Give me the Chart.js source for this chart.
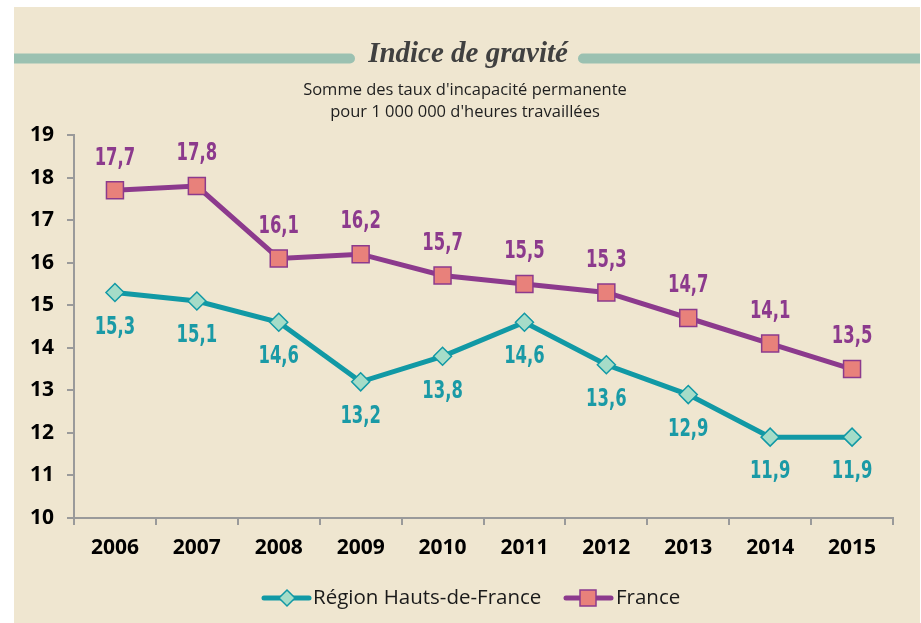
<!DOCTYPE html>
<html>
<head>
<meta charset="utf-8">
<script src="https://cdn.jsdelivr.net/npm/chart.js@4/dist/chart.umd.min.js"></script>
<style>
  html, body { margin: 0; padding: 0; background: #fff; }
  canvas { display: block; }
</style>
</head>
<body>
<canvas id="chart" width="921" height="623"></canvas>
<script>
const years = ['2006', '2007', '2008', '2009', '2010', '2011', '2012', '2013', '2014', '2015'];
const hautsDeFrance = [15.3, 15.1, 14.6, 13.2, 13.8, 14.6, 13.6, 12.9, 11.9, 11.9];
const france = [17.7, 17.8, 16.1, 16.2, 15.7, 15.5, 15.3, 14.7, 14.1, 13.5];

const TEAL = '#1199a5';
const PURPLE = '#8c3a8d';
const LABEL_FONT = 'bold 24px "DejaVu Sans Condensed", "Open Sans", sans-serif';
const TEXT_FONT = '"Open Sans", "Noto Sans", sans-serif';

// fond beige, bandeau et titres
const decor = {
    id: 'decor',
    beforeDraw(chart) {
        const ctx = chart.ctx;
        ctx.save();
        ctx.fillStyle = '#ffffff';
        ctx.fillRect(0, 0, 921, 623);
        ctx.fillStyle = '#efe6d0';
        ctx.fillRect(14, 7, 906, 616);

        ctx.beginPath();
        ctx.rect(14, 7, 906, 616);
        ctx.clip();
        ctx.strokeStyle = '#9bc1b1';
        ctx.lineWidth = 10;
        ctx.lineCap = 'round';
        ctx.beginPath();
        ctx.moveTo(0, 58.5); ctx.lineTo(350, 58.5);
        ctx.moveTo(583, 58.5); ctx.lineTo(940, 58.5);
        ctx.stroke();
        ctx.restore();

        ctx.save();
        ctx.textAlign = 'center';
        ctx.textBaseline = 'middle';
        ctx.fillStyle = '#404040';
        ctx.font = 'italic bold 29px "Liberation Serif", serif';
        ctx.fillText('Indice de gravité', 468, 55);
        ctx.fillStyle = '#1e1e1e';
        ctx.font = '16.5px ' + TEXT_FONT;
        ctx.fillText("Somme des taux d'incapacité permanente", 465, 90);
        ctx.fillText("pour 1 000 000 d'heures travaillées", 465, 112);
        ctx.restore();
    },
    afterDraw(chart) {
        // légende dessinée à la main (ligne + marqueur)
        const ctx = chart.ctx;
        const y = 598;
        ctx.save();
        ctx.lineWidth = 5;
        ctx.lineCap = 'round';
        ctx.strokeStyle = TEAL;
        ctx.beginPath(); ctx.moveTo(264, y); ctx.lineTo(309, y); ctx.stroke();
        ctx.fillStyle = '#a5dcc8';
        ctx.lineWidth = 1.5;
        ctx.beginPath();
        ctx.moveTo(287, y - 8); ctx.lineTo(295, y); ctx.lineTo(287, y + 8); ctx.lineTo(279, y);
        ctx.closePath(); ctx.fill(); ctx.stroke();

        ctx.lineWidth = 5;
        ctx.strokeStyle = PURPLE;
        ctx.beginPath(); ctx.moveTo(566, y); ctx.lineTo(611, y); ctx.stroke();
        ctx.fillStyle = '#e8817b';
        ctx.lineWidth = 1.5;
        ctx.fillRect(580, y - 8, 16, 16);
        ctx.strokeRect(580, y - 8, 16, 16);

        ctx.fillStyle = '#1a1a1a';
        ctx.font = '20.5px ' + TEXT_FONT;
        ctx.textBaseline = 'middle';
        ctx.textAlign = 'left';
        ctx.fillText('Région Hauts-de-France', 313, y);
        ctx.fillText('France', 616, y);
        ctx.restore();
    }
};

// étiquettes de valeurs (police condensée à la main)
const valueLabels = {
    id: 'valueLabels',
    afterDatasetsDraw(chart) {
        const ctx = chart.ctx;
        ctx.save();
        ctx.font = LABEL_FONT;
        ctx.textAlign = 'center';
        ctx.textBaseline = 'middle';
        chart.data.datasets.forEach((ds, i) => {
            const meta = chart.getDatasetMeta(i);
            ctx.fillStyle = ds.labelColor;
            meta.data.forEach((pt, j) => {
                const txt = ds.data[j].toFixed(1).replace('.', ',');
                ctx.save();
                ctx.translate(pt.x, pt.y + ds.labelOffset);
                ctx.scale(0.76, 1);
                ctx.fillText(txt, 0, 0);
                ctx.restore();
            });
        });
        ctx.restore();
    }
};

new Chart(document.getElementById('chart'), {
    type: 'line',
    data: {
        labels: years,
        datasets: [
            {
                label: 'Région Hauts-de-France',
                data: hautsDeFrance,
                borderColor: TEAL,
                borderWidth: 5,
                pointStyle: 'rectRot',
                pointRadius: 9,
                pointBackgroundColor: '#a5dcc8',
                pointBorderColor: TEAL,
                pointBorderWidth: 1.5,
                labelColor: '#1a9aa6',
                labelOffset: 35
            },
            {
                label: 'France',
                data: france,
                borderColor: PURPLE,
                borderWidth: 5,
                pointStyle: 'rect',
                pointRadius: 12,
                pointBackgroundColor: '#e8817b',
                pointBorderColor: PURPLE,
                pointBorderWidth: 1.5,
                labelColor: '#8c3a8d',
                labelOffset: -32
            }
        ]
    },
    options: {
        responsive: false,
        animation: false,
        layout: { padding: { top: 135, right: 28, left: 0, bottom: 0 } },
        plugins: { legend: { display: false }, tooltip: { enabled: false } },
        scales: {
            x: {
                offset: true,
                afterFit: s => { s.height = 105; },
                grid: { offset: true, drawOnChartArea: false, tickLength: 7, color: '#9a9a9a', lineWidth: 2 },
                border: { color: '#9a9a9a', width: 2 },
                ticks: { color: '#000', padding: 10, font: { family: TEXT_FONT, size: 21, weight: 'bold' } }
            },
            y: {
                min: 10,
                max: 19,
                afterFit: s => { s.width = 74; },
                grid: { drawOnChartArea: false, tickLength: 7, color: '#9a9a9a', lineWidth: 2 },
                border: { color: '#9a9a9a', width: 2 },
                ticks: { stepSize: 1, color: '#000', padding: 13, font: { family: TEXT_FONT, size: 21, weight: 'bold' } }
            }
        }
    },
    plugins: [decor, valueLabels]
});
</script>
</body>
</html>
